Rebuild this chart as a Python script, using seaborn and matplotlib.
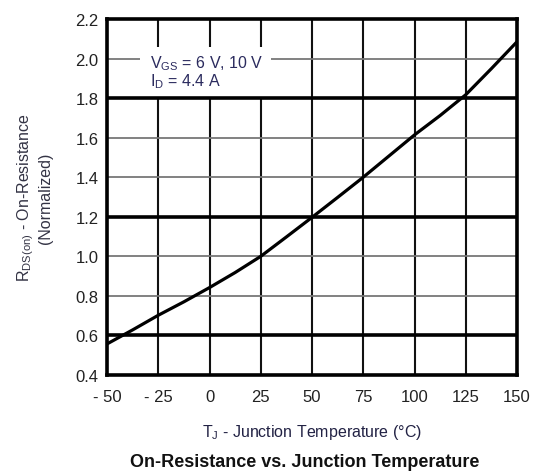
import numpy as np
import pandas as pd
import seaborn as sns
from matplotlib import pyplot as plt
from matplotlib.patches import Rectangle

temps = [-50, -37.5, -25, -12.5, 0, 12.5, 25, 37.5, 50, 62.5, 75, 87.5, 100, 112.5, 125, 137.5, 150]
rds_norm = [0.557, 0.628, 0.702, 0.77, 0.842, 0.918, 1.0, 1.098, 1.197, 1.298, 1.40, 1.507, 1.614, 1.712, 1.817, 1.949, 2.085]

x_ticks = [-50, -25, 0, 25, 50, 75, 100, 125, 150]
x_tick_labels = ["- 50", "- 25", "0", "25", "50", "75", "100", "125", "150"]
y_ticks = [0.4, 0.6, 0.8, 1.0, 1.2, 1.4, 1.6, 1.8, 2.0, 2.2]
y_bold = [0.6, 1.2, 1.8]

sns.set_style("white")
plt.rcParams["font.family"] = ["Liberation Sans", "DejaVu Sans"]
plt.rcParams["mathtext.default"] = "regular"

df = pd.DataFrame({"temp": temps, "rds": rds_norm})

fig = plt.figure(figsize=(5.38, 4.77), dpi=100)
ax = fig.add_axes([107 / 538, 101 / 477, 410 / 538, 356 / 477])

sns.lineplot(data=df, x="temp", y="rds", color="black", linewidth=2.3, ax=ax, zorder=6)

ax.set_xlim(-50, 150)
ax.set_ylim(0.4, 2.2)
ax.set_xticks(x_ticks)
ax.set_xticklabels(x_tick_labels)
ax.set_yticks(y_ticks)
ax.set_yticklabels([f"{v:.1f}" for v in y_ticks])

ax.grid(axis="x", color="#111111", linewidth=1.5, zorder=1)
ax.grid(axis="y", color="#777777", linewidth=1.3, zorder=1)
for v in y_bold:
    ax.axhline(v, color="black", linewidth=2.6, zorder=5)
ax.set_axisbelow(True)

for s in ax.spines.values():
    s.set_color("black")
    s.set_linewidth(2.6)

ax.tick_params(axis="both", length=0, labelsize=12, colors="#222222")
ax.tick_params(axis="x", pad=10)
ax.tick_params(axis="y", pad=6)

# white block behind the condition note hides the grid there
ax.add_patch(Rectangle((-34, 1.8), 64, 0.26, facecolor="white", edgecolor="none", zorder=3))
ax.text(-29, 1.935, "V$_{GS}$ = 6 V, 10 V\nI$_{D}$ = 4.4 A", fontsize=11.5, color="#2b2b5e",
        va="center", ha="left", linespacing=0.95, zorder=4)

ax.set_xlabel("T$_{J}$ - Junction Temperature (°C)", fontsize=11.5, color="#222244", labelpad=13)
ax.set_ylabel("R$_{DS(on)}$ - On-Resistance\n(Normalized)", fontsize=11.5, color="#333344", labelpad=16)

fig.text(305 / 538, 1 - 463 / 477, "On-Resistance vs. Junction Temperature", fontsize=13,
         fontweight="bold", ha="center", va="center", color="#111111")

fig.savefig("out.png", dpi=100)
plt.close()
